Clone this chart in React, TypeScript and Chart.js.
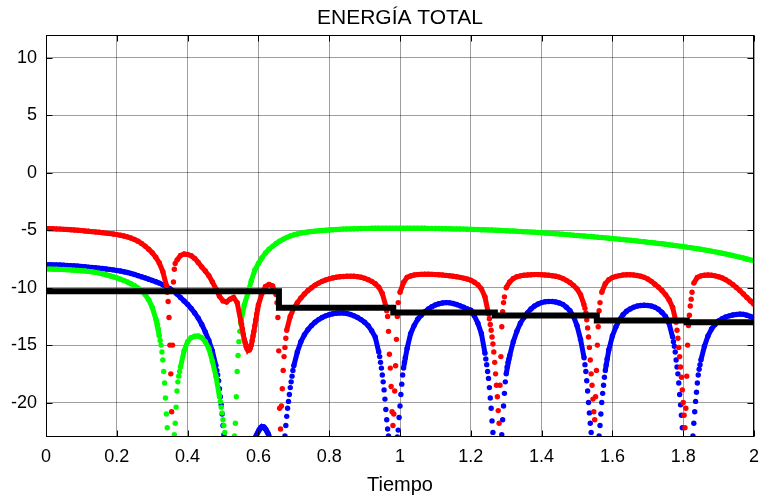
import React, { useEffect, useRef } from 'react';
import { Chart, registerables } from 'chart.js';

Chart.register(...registerables);

const TITULO = 'ENERGÍA TOTAL';
const ETIQUETA_X = 'Tiempo';
const TICKS_X = [0, 0.2, 0.4, 0.6, 0.8, 1, 1.2, 1.4, 1.6, 1.8, 2];
const TICKS_Y = [-20, -15, -10, -5, 0, 5, 10];
const X_MIN = 0;
const X_MAX = 2;
const Y_MIN = -23;
const Y_MAX = 12;

// sampling instants of the three energy series: 0 .. 2 every 0.01
const tiempo = Array.from({ length: 201 }, (_, i) => i / 100);

// null = below the visible range
const rojo: (number | null)[] = [
  -4.85, -4.86, -4.87, -4.88, -4.9, -4.92, -4.94, -4.96, -4.98, -5.0,
  -5.03, -5.06, -5.09, -5.12, -5.15, -5.18, -5.21, -5.25, -5.29, -5.33,
  -5.38, -5.44, -5.5, -5.58, -5.68, -5.8, -5.95, -6.15, -6.38, -6.65,
  -6.95, -7.35, -7.85, -8.6, -9.8, -15.0, -9.5, -7.6, -7.2, -7.07,
  -7.1, -7.22, -7.45, -7.8, -8.2, -8.55, -8.95, -9.5, -10.1, -10.75,
  -11.15, -11.25, -11.0, -10.85, -11.3, -12.85, -14.5, -15.4, -15.0, -13.3,
  -11.5, -10.5, -9.9, -9.72, -9.85, -10.6, -20.5, -17.2, -13.7, -12.5,
  -11.8, -11.3, -10.9, -10.55, -10.25, -10.0, -9.78, -9.6, -9.45, -9.33,
  -9.23, -9.15, -9.09, -9.05, -9.02, -9.0, -9.0, -9.01, -9.04, -9.09,
  -9.18, -9.3, -9.45, -9.65, -9.95, -10.5, -11.6, -15.8, -22.0, -14.5,
  -10.4, -9.55, -9.1, -8.98, -8.9, -8.86, -8.84, -8.83, -8.83, -8.84,
  -8.86, -8.88, -8.9, -8.93, -8.96, -9.0, -9.05, -9.1, -9.17, -9.25,
  -9.35, -9.52, -9.75, -10.1, -10.8, -12.3, -14.3, -17.5, -21.8, -12.1,
  -10.0, -9.5, -9.2, -9.05, -8.97, -8.92, -8.89, -8.87, -8.86, -8.86,
  -8.87, -8.89, -8.92, -8.96, -9.01, -9.08, -9.2, -9.36, -9.55, -9.8,
  -10.1, -10.6, -11.5, -13.5, -17.5, -21.5, -13.4, -10.4, -9.65, -9.3,
  -9.12, -9.02, -8.95, -8.9, -8.88, -8.88, -8.9, -8.94, -9.0, -9.1,
  -9.25, -9.45, -9.7, -9.95, -10.25, -10.6, -11.05, -11.7, -13.0, -16.0,
  -20.0, -17.7, -11.6, -9.6, -9.1, -8.97, -8.92, -8.9, -8.92, -8.97,
  -9.05, -9.15, -9.3, -9.5, -9.72, -9.98, -10.25, -10.55, -10.85, -11.15,
  -11.45,
];

const verde: (number | null)[] = [
  -8.38, -8.38, -8.39, -8.4, -8.41, -8.42, -8.44, -8.46, -8.48, -8.5,
  -8.52, -8.55, -8.58, -8.62, -8.67, -8.73, -8.8, -8.88, -8.96, -9.05,
  -9.15, -9.26, -9.38, -9.51, -9.66, -9.83, -10.03, -10.27, -10.6, -11.05,
  -11.7, -12.7, -14.2, -16.3, -21.0, null, null, -19.0, -16.9, -15.5,
  -14.7, -14.35, -14.22, -14.2, -14.35, -14.7, -15.3, -16.4, -17.7, -19.5,
  -21.5, null, null, null, -17.3, -13.1, -11.5, -10.5, -9.4, -8.45,
  -7.9, -7.4, -6.98, -6.65, -6.4, -6.15, -5.95, -5.78, -5.63, -5.5,
  -5.4, -5.32, -5.25, -5.2, -5.15, -5.11, -5.08, -5.05, -5.02, -5.0,
  -4.98, -4.96, -4.94, -4.92, -4.9, -4.89, -4.88, -4.87, -4.86, -4.85,
  -4.84, -4.84, -4.83, -4.83, -4.83, -4.82, -4.82, -4.82, -4.82, -4.82,
  -4.82, -4.82, -4.82, -4.82, -4.82, -4.83, -4.83, -4.83, -4.84, -4.84,
  -4.85, -4.85, -4.86, -4.86, -4.87, -4.88, -4.88, -4.89, -4.9, -4.91,
  -4.92, -4.93, -4.94, -4.95, -4.96, -4.97, -4.98, -5.0, -5.01, -5.03,
  -5.04, -5.06, -5.07, -5.09, -5.1, -5.12, -5.14, -5.16, -5.18, -5.2,
  -5.22, -5.24, -5.26, -5.28, -5.3, -5.33, -5.35, -5.38, -5.4, -5.43,
  -5.45, -5.48, -5.5, -5.53, -5.55, -5.58, -5.61, -5.63, -5.66, -5.69,
  -5.72, -5.75, -5.78, -5.81, -5.84, -5.87, -5.9, -5.93, -5.97, -6.0,
  -6.04, -6.07, -6.11, -6.15, -6.18, -6.22, -6.26, -6.3, -6.34, -6.38,
  -6.42, -6.47, -6.51, -6.56, -6.61, -6.66, -6.71, -6.76, -6.82, -6.88,
  -6.94, -7.0, -7.06, -7.13, -7.2, -7.27, -7.34, -7.42, -7.5, -7.58,
  -7.64,
];

const azul: (number | null)[] = [
  -8.0, -8.0, -8.01, -8.02, -8.03, -8.04, -8.06, -8.08, -8.1, -8.12,
  -8.15, -8.18, -8.21, -8.24, -8.27, -8.3, -8.33, -8.37, -8.41, -8.45,
  -8.5, -8.55, -8.61, -8.68, -8.76, -8.85, -8.95, -9.05, -9.15, -9.26,
  -9.37, -9.48, -9.6, -9.74, -9.9, -10.08, -10.3, -10.55, -10.85, -11.15,
  -11.45, -11.8, -12.2, -12.65, -13.2, -13.85, -14.6, -15.5, -16.8, -18.8,
  -22.0, null, null, null, null, null, null, null, null, null,
  -22.5, -22.1, -22.3, -22.9, null, null, null, null, -21.2, -18.7,
  -16.8, -15.6, -14.7, -14.1, -13.65, -13.3, -13.0, -12.78, -12.6, -12.45,
  -12.35, -12.27, -12.22, -12.2, -12.2, -12.25, -12.33, -12.45, -12.6, -12.78,
  -13.0, -13.3, -13.75, -14.3, -15.6, -17.6, -20.6, null, null, null,
  -20.3, -17.0, -15.3, -14.0, -13.3, -12.75, -12.4, -12.1, -11.85, -11.65,
  -11.5, -11.4, -11.33, -11.3, -11.32, -11.38, -11.47, -11.58, -11.7, -11.85,
  -11.95, -12.45, -13.1, -14.0, -15.7, -17.9, -21.6, null, null, -21.5,
  -17.5, -15.9, -14.7, -13.8, -13.1, -12.6, -12.2, -11.85, -11.6, -11.42,
  -11.3, -11.22, -11.2, -11.2, -11.25, -11.33, -11.45, -11.7, -12.0, -12.5,
  -13.3, -14.5, -16.1, -19.0, -22.6, null, null, -20.0, -17.2, -15.4,
  -14.2, -13.4, -12.8, -12.35, -12.05, -11.85, -11.7, -11.6, -11.55, -11.52,
  -11.55, -11.6, -11.7, -11.88, -12.15, -12.5, -13.1, -14.3, -16.3, -19.3,
  null, null, null, -21.8, -18.3, -16.3, -15.1, -14.2, -13.6, -13.2,
  -12.9, -12.7, -12.55, -12.45, -12.38, -12.33, -12.3, -12.32, -12.4, -12.5,
  -12.62,
];

// extra samples read inside the steep dips: [tiempo, energía]
const rojoDetalle: [number, number][] = [
  [0.3425, -10.4], [0.345, -11.2], [0.3475, -12.6], [0.3525, -17.5], [0.355, -20.8], [0.3575, -15.0], [0.3625, -8.4], [0.365, -7.9],
  [0.5525, -13.2], [0.555, -13.6], [0.5575, -14.1], [0.5625, -14.8], [0.565, -15.1], [0.5675, -15.3], [0.5725, -15.45], [0.575, -15.4], [0.5775, -15.25], [0.5825, -14.6], [0.585, -14.2], [0.5875, -13.8], [0.5925, -12.8], [0.595, -12.3], [0.5975, -11.9],
  [0.6525, -11.3], [0.655, -12.6], [0.6575, -15.5], [0.6625, -22.3], [0.665, -20.3], [0.6675, -18.8], [0.6725, -16.0], [0.675, -15.2], [0.6775, -14.4],
  [0.9625, -12.0], [0.965, -12.5], [0.9675, -13.8], [0.9725, -17.0], [0.975, -18.6], [0.9775, -20.8], [0.9825, -21.0], [0.985, -19.0], [0.9875, -16.8], [0.9925, -12.5], [0.995, -11.3],
  [1.2525, -12.7], [1.255, -13.2], [1.2575, -13.7], [1.2625, -14.9], [1.265, -15.6], [1.2675, -16.5], [1.2725, -18.5], [1.275, -19.5], [1.2775, -20.7], [1.2825, -18.5], [1.285, -16.0], [1.2875, -13.4], [1.2925, -11.3], [1.295, -10.8],
  [1.5225, -11.8], [1.525, -12.2], [1.5275, -12.8], [1.5325, -14.3], [1.535, -15.2], [1.5375, -16.3], [1.5425, -18.5], [1.545, -19.7], [1.5475, -20.8], [1.5525, -19.5], [1.555, -17.2], [1.5575, -15.0], [1.5625, -12.0], [1.565, -11.3],
  [1.7825, -13.7], [1.785, -14.4], [1.7875, -15.2], [1.7925, -16.9], [1.795, -17.8], [1.7975, -18.9], [1.8025, -21.1], [1.805, -22.2], [1.8075, -20.5], [1.8125, -15.0], [1.815, -13.3], [1.8175, -12.4], [1.8225, -11.0], [1.825, -10.4],
];

const verdeDetalle: [number, number][] = [
  [0.3125, -12.9], [0.315, -13.2], [0.3175, -13.6], [0.3225, -14.6], [0.325, -15.0], [0.3275, -15.6],
  [0.3325, -17.3], [0.335, -18.3], [0.3375, -19.6], [0.3425, -22.2],
  [0.3625, -22.8], [0.365, -21.8], [0.3675, -20.4], [0.3725, -18.2], [0.375, -17.7], [0.3775, -17.3],
  [0.4925, -19.9], [0.495, -20.4], [0.4975, -20.9], [0.5025, -22.0], [0.505, -22.6],
  [0.5325, -22.9], [0.535, -21.8], [0.5375, -19.5], [0.5425, -15.9], [0.545, -14.7], [0.5475, -13.8],
];

const azulDetalle: [number, number][] = [
  [0.4825, -17.2], [0.485, -17.6], [0.4875, -18.1], [0.4925, -19.5], [0.495, -20.2], [0.4975, -21.0], [0.5025, -22.8],
  [0.5925, -22.95], [0.595, -22.8], [0.5975, -22.65], [0.6025, -22.35], [0.605, -22.25], [0.6075, -22.15], [0.6125, -22.1], [0.615, -22.1], [0.6175, -22.2], [0.6225, -22.4], [0.625, -22.55], [0.6275, -22.7],
  [0.675, -22.9], [0.6775, -22.0], [0.6825, -20.5], [0.685, -19.9], [0.6875, -19.3], [0.6925, -18.2], [0.695, -17.7], [0.6975, -17.2],
  [0.9425, -16.0], [0.945, -16.5], [0.9475, -17.0], [0.9525, -18.2], [0.955, -18.9], [0.9575, -19.7], [0.9625, -21.5], [0.965, -22.3], [0.9675, -22.9],
  [0.9925, -23.0], [0.995, -22.4], [0.9975, -21.3], [1.0025, -19.3], [1.005, -18.4], [1.0075, -17.6], [1.0125, -16.5], [1.015, -16.1],
  [1.2425, -16.2], [1.245, -16.7], [1.2475, -17.3], [1.2525, -18.7], [1.255, -19.6], [1.2575, -20.5], [1.2625, -22.6],
  [1.2875, -22.8], [1.2925, -20.3], [1.295, -19.2], [1.2975, -18.2], [1.3025, -16.9], [1.305, -16.5], [1.3075, -16.2],
  [1.5225, -16.7], [1.525, -17.3], [1.5275, -18.1], [1.5325, -20.0], [1.535, -20.9], [1.5375, -21.8],
  [1.5625, -22.9], [1.565, -22.0], [1.5675, -21.0], [1.5725, -19.2], [1.575, -18.5], [1.5775, -17.8], [1.5825, -16.7], [1.585, -16.2],
  [1.7725, -14.7], [1.775, -15.1], [1.7775, -15.6], [1.7825, -16.9], [1.785, -17.5], [1.7875, -18.3], [1.7925, -20.2], [1.795, -21.1], [1.7975, -22.2],
  [1.8275, -22.9], [1.8325, -20.8], [1.835, -19.9], [1.8375, -19.1], [1.8425, -17.6], [1.845, -17.1], [1.8475, -16.7],
];

// total energy (stepped: each value holds until the next instant)
const negroT = [0, 0.658, 0.981, 1.268, 1.556, 1.81, 2];
const negroV = [-10.3, -11.75, -12.15, -12.42, -12.85, -13.0, -13.0];

const ROJO = '#ff0000';
const VERDE = '#00ff00';
const AZUL = '#0000ff';
const NEGRO = '#000000';
const FUENTE = "'Liberation Sans', Arial, Helvetica, sans-serif";

const serieLinea = (vals: (number | null)[], color: string, order: number) => ({
  type: 'line' as const,
  data: tiempo.map((t, i) => ({ x: t, y: vals[i] })),
  borderColor: color,
  backgroundColor: color,
  borderWidth: 5,
  pointRadius: 2.7,
  pointBorderWidth: 0,
  pointBackgroundColor: color,
  pointHoverRadius: 0,
  tension: 0,
  fill: false,
  spanGaps: false,
  order,
  segment: {
    borderColor: (ctx: any) => {
      const dx = ctx.p1.x - ctx.p0.x;
      const dy = ctx.p1.y - ctx.p0.y;
      return Math.hypot(dx, dy) > 22 ? 'rgba(0,0,0,0)' : color;
    },
  },
});

const seriePuntos = (pares: [number, number][], color: string, order: number) => ({
  type: 'line' as const,
  data: pares.map(([t, v]) => ({ x: t, y: v })),
  showLine: false,
  borderColor: color,
  backgroundColor: color,
  pointRadius: 2.7,
  pointBorderWidth: 0,
  pointBackgroundColor: color,
  pointHoverRadius: 0,
  order,
});

const marcoPlugin = {
  id: 'marco',
  afterDraw(chart: any) {
    const { ctx, chartArea: a, scales } = chart;
    ctx.save();
    ctx.strokeStyle = '#000';
    ctx.lineWidth = 1;
    const l = Math.round(a.left) + 0.5;
    const r = Math.round(a.right) - 0.5;
    const t = Math.round(a.top) + 0.5;
    const b = Math.round(a.bottom) - 0.5;
    ctx.strokeRect(l, t, r - l, b - t);
    ctx.beginPath();
    TICKS_X.forEach((v) => {
      const x = Math.round(scales.x.getPixelForValue(v)) + 0.5;
      ctx.moveTo(x, b);
      ctx.lineTo(x, b - 6);
      ctx.moveTo(x, t);
      ctx.lineTo(x, t + 6);
    });
    TICKS_Y.forEach((v) => {
      const y = Math.round(scales.y.getPixelForValue(v)) + 0.5;
      ctx.moveTo(l, y);
      ctx.lineTo(l + 6, y);
      ctx.moveTo(r, y);
      ctx.lineTo(r - 6, y);
    });
    ctx.stroke();
    ctx.fillStyle = '#000';
    ctx.font = `21px ${FUENTE}`;
    ctx.textAlign = 'center';
    ctx.textBaseline = 'middle';
    ctx.fillText(TITULO, (a.left + a.right) / 2, 18);
    ctx.restore();
  },
};

export default function App() {
  const ref = useRef<HTMLCanvasElement | null>(null);

  useEffect(() => {
    if (!ref.current) return;
    Chart.defaults.font.family = FUENTE;
    const chart = new Chart(ref.current, {
      type: 'line',
      data: {
        datasets: [
          {
            type: 'line',
            data: negroT.map((t, i) => ({ x: t, y: negroV[i] })),
            borderColor: NEGRO,
            backgroundColor: NEGRO,
            borderWidth: 6,
            stepped: 'before',
            pointRadius: 0,
            pointHoverRadius: 0,
            fill: false,
            order: 0,
          } as any,
          serieLinea(rojo, ROJO, 1),
          seriePuntos(rojoDetalle, ROJO, 1),
          serieLinea(verde, VERDE, 2),
          seriePuntos(verdeDetalle, VERDE, 2),
          serieLinea(azul, AZUL, 3),
          seriePuntos(azulDetalle, AZUL, 3),
        ] as any,
      },
      options: {
        responsive: false,
        animation: false,
        devicePixelRatio: 1,
        events: [],
        layout: { padding: { top: 35, right: 11, left: 0, bottom: 0 } },
        plugins: {
          legend: { display: false },
          tooltip: { enabled: false },
          title: { display: false },
        },
        scales: {
          x: {
            type: 'linear',
            min: X_MIN,
            max: X_MAX,
            afterBuildTicks: (s: any) => {
              s.ticks = TICKS_X.map((v) => ({ value: v }));
            },
            afterFit: (s: any) => {
              s.height = 62;
              s.paddingLeft = 0;
              s.paddingRight = 0;
            },
            grid: { color: 'rgba(0,0,0,0.38)', lineWidth: 1, drawTicks: false },
            border: { display: false },
            ticks: {
              padding: 9,
              color: '#000',
              font: { size: 18 },
              maxRotation: 0,
              autoSkip: false,
              callback: (v: any) => String(Number(Number(v).toFixed(1))),
            },
            title: {
              display: true,
              text: ETIQUETA_X,
              color: '#000',
              font: { size: 20 },
              padding: { top: 0, bottom: 2 },
            },
          },
          y: {
            type: 'linear',
            min: Y_MIN,
            max: Y_MAX,
            afterBuildTicks: (s: any) => {
              s.ticks = TICKS_Y.map((v) => ({ value: v }));
            },
            afterFit: (s: any) => {
              s.width = 46;
            },
            grid: { color: 'rgba(0,0,0,0.38)', lineWidth: 1, drawTicks: false },
            border: { display: false },
            ticks: {
              padding: 9,
              color: '#000',
              font: { size: 18 },
              autoSkip: false,
            },
          },
        },
      } as any,
      plugins: [marcoPlugin],
    });
    return () => chart.destroy();
  }, []);

  return (
    <div style={{ position: 'fixed', left: 0, top: 0, width: 765, height: 499, background: '#ffffff' }}>
      <canvas ref={ref} width={765} height={499} style={{ display: 'block' }} />
    </div>
  );
}
